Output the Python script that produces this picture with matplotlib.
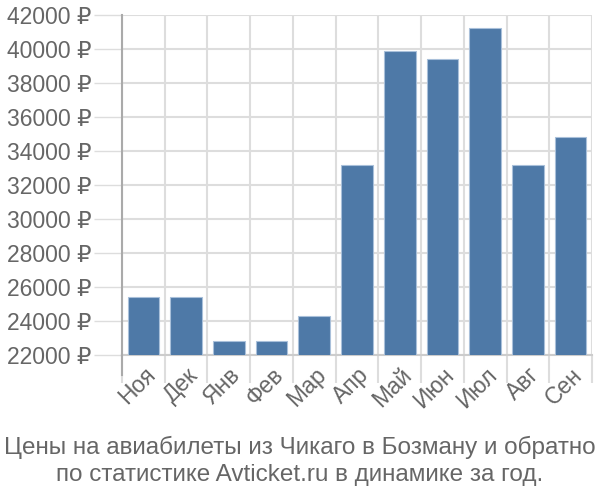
import matplotlib.pyplot as plt
from matplotlib.lines import Line2D
import numpy as np

months = ["Ноя", "Дек", "Янв", "Фев", "Мар", "Апр", "Май", "Июн", "Июл", "Авг", "Сен"]
prices = [25400, 25400, 22800, 22800, 24300, 33200, 39900, 39400, 41250, 33200, 34800]
yticks = list(range(22000, 42001, 2000))
title = "Цены на авиабилеты из Чикаго в Бозману и обратно\nпо статистике Avticket.ru в динамике за год."

plt.rcParams['font.family'] = ['Liberation Sans', 'DejaVu Sans']

fig = plt.figure(figsize=(6, 5), dpi=100)
ax = fig.add_axes([122/600, 1 - 355/500, 470/600, 340/500])

x = np.arange(len(months))
ax.bar(x, prices, width=0.74, color="#4e79a7", edgecolor="#a9c0da", linewidth=0.8,
       zorder=3)
ax.set_xlim(-0.5, len(months) - 0.5)
ax.set_ylim(22000, 42000)

ax.set_yticks(yticks)
ax.set_yticklabels([f"{v} ₽" for v in yticks])
ax.set_xticks(x)
ax.set_xticklabels(months, rotation=45, ha="right", va="top", rotation_mode="anchor")
ax.set_xticks(np.arange(-0.5, len(months)), minor=True)

ax.tick_params(axis="y", length=20, color="#dddddd", width=1, labelsize=16.5,
               labelcolor="#666666", pad=2)
ax.tick_params(axis="x", which="major", length=0, labelsize=16.5,
               labelcolor="#666666", pad=6)
ax.tick_params(axis="x", which="minor", length=20, color="#dddddd", width=1.5)

ax.grid(axis="y", color="#dddddd", linewidth=1.5, zorder=0)
ax.grid(axis="x", which="minor", color="#dddddd", linewidth=1.5, zorder=0)

for s in ["top", "right"]:
    ax.spines[s].set_visible(False)
ax.spines["bottom"].set_color("#cccccc")
ax.spines["bottom"].set_linewidth(1.5)
ax.spines["left"].set_color("#aaaaaa")
ax.spines["left"].set_linewidth(1.5)
ax.add_line(Line2D([0, 0], [0, -20/340], transform=ax.transAxes, color="#aaaaaa",
                   linewidth=1.5, clip_on=False, zorder=4))

fig.text(0.5, 1 - 461/500, title, ha="center", va="center", fontsize=17.5,
         color="#666666", linespacing=1.25)

fig.savefig("out.png", dpi=100)
